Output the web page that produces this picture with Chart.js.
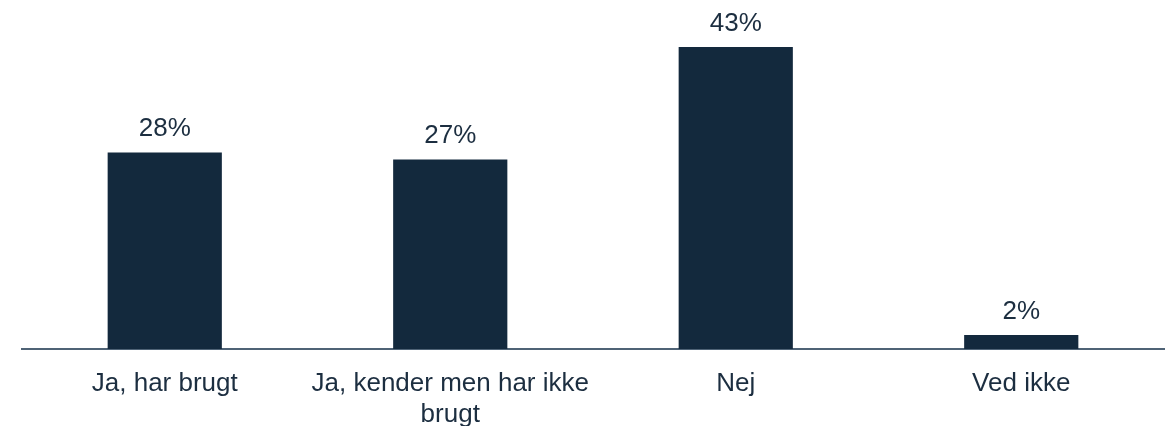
<!DOCTYPE html>
<html>
<head>
<meta charset="utf-8">
<script src="https://cdn.jsdelivr.net/npm/chart.js@4"></script>
<style>
  html, body { margin: 0; padding: 0; background: #fff; }
  #wrap { width: 1170px; height: 426px; }
</style>
</head>
<body>
<div id="wrap"><canvas id="chart"></canvas></div>
<script>
// Survey answers
const categories = ['Ja, har brugt', ['Ja, kender men har ikke', 'brugt'], 'Nej', 'Ved ikke'];
const shares = [28, 27, 43, 2];

const barColor = '#13293d';
const textColor = '#1c2e40';
const fontFamily = '"Liberation Sans", Arial, sans-serif';

// draws "xx%" above each bar
const valueLabels = {
  id: 'valueLabels',
  afterDatasetsDraw(chart) {
    const ctx = chart.ctx;
    const meta = chart.getDatasetMeta(0);
    ctx.save();
    ctx.font = '26px ' + fontFamily;
    ctx.fillStyle = textColor;
    ctx.textAlign = 'center';
    ctx.textBaseline = 'alphabetic';
    meta.data.forEach((bar, i) => {
      ctx.fillText(shares[i] + '%', bar.x, bar.y - 16);
    });
    ctx.restore();
  }
};

new Chart(document.getElementById('chart'), {
  type: 'bar',
  data: {
    labels: categories,
    datasets: [{
      data: shares,
      backgroundColor: barColor,
      categoryPercentage: 1,
      barPercentage: 0.4
    }]
  },
  options: {
    responsive: true,
    maintainAspectRatio: false,
    animation: false,
    layout: { padding: { left: 22, right: 6, top: 0, bottom: 0 } },
    plugins: {
      legend: { display: false },
      tooltip: { enabled: false }
    },
    scales: {
      y: {
        display: false,
        min: 0,
        max: 49.7
      },
      x: {
        grid: { display: false, drawTicks: false },
        border: { display: true, color: '#4f6376', width: 2 },
        ticks: {
          color: textColor,
          font: { family: fontFamily, size: 26, lineHeight: 1.2 },
          padding: 19,
          maxRotation: 0,
          autoSkip: false
        },
        afterFit(scale) {
          scale.height = 77; // keep baseline where the original sits
        }
      }
    }
  },
  plugins: [valueLabels]
});
</script>
</body>
</html>
